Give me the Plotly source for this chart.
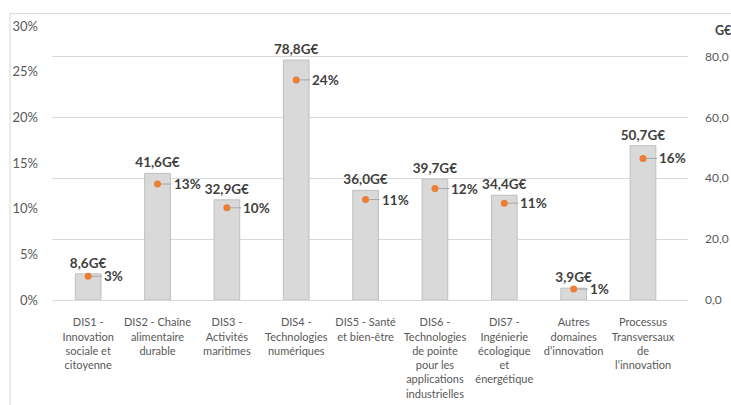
import plotly.graph_objects as go

categories = ["DIS1", "DIS2", "DIS3", "DIS4", "DIS5", "DIS6", "DIS7", "Autres", "Processus"]
tick_labels = [
    "DIS1 -<br>Innovation<br>sociale et<br>citoyenne",
    "DIS2 - Chaîne<br>alimentaire<br>durable",
    "DIS3 -<br>Activités<br>maritimes",
    "DIS4 -<br>Technologies<br>numériques",
    "DIS5 - Santé<br>et bien-être",
    "DIS6 -<br>Technologies<br>de pointe<br>pour les<br>applications<br>industrielles",
    "DIS7 -<br>Ingénierie<br>écologique<br>et<br>énergétique",
    "Autres<br>domaines<br>d’innovation",
    "Processus<br>Transversaux<br>de<br>l’innovation",
]
amount_geur = [8.6, 41.6, 32.9, 78.8, 36.0, 39.7, 34.4, 3.9, 50.7]
share = [0.026, 0.127, 0.101, 0.241, 0.110, 0.122, 0.106, 0.012, 0.155]

FONT = "Lato"
GREY_TXT = "#595959"
LABEL_TXT = "#404040"

fig = go.Figure()
fig.add_trace(go.Bar(
    x=categories, y=amount_geur, yaxis="y",
    marker=dict(color="#d9d9d9", line=dict(color="#bfbfbf", width=1)),
    texttemplate="<b>%{y:.1f}G€</b>", textposition="outside",
    constraintext="none",
    textfont=dict(family=FONT, size=13.5, color=LABEL_TXT),
    cliponaxis=False, showlegend=False,
))
fig.add_trace(go.Scatter(
    x=categories, y=share, yaxis="y2", mode="markers",
    marker=dict(color="#ed7d31", size=7),
    showlegend=False, cliponaxis=False,
))

annotations = []
for c, s in zip(categories, share):
    annotations.append(dict(
        x=c, y=s, xref="x", yref="y2",
        text="<b>%d%%</b>" % int(s * 100 + 0.5),
        showarrow=True, arrowhead=0, arrowwidth=1, arrowcolor="#a6a6a6",
        ax=14, ay=0, axref="pixel", ayref="pixel", xanchor="left",
        standoff=3,
        font=dict(family=FONT, size=13.5, color=LABEL_TXT),
    ))
annotations.append(dict(
    x=1.04, y=0.985, xref="paper", yref="paper", text="<b>G€</b>",
    showarrow=False, xanchor="left", yanchor="middle",
    font=dict(family=FONT, size=12.5, color=LABEL_TXT),
))

fig.update_layout(
    width=731, height=405,
    margin=dict(l=52, r=43, t=26, b=105),
    paper_bgcolor="white", plot_bgcolor="white",
    separators=", ",
    bargap=0.63,
    font=dict(family=FONT, size=11.5, color=GREY_TXT),
    xaxis=dict(
        tickvals=categories, ticktext=tick_labels, automargin=False,
        showline=True, linecolor="#d9d9d9", linewidth=1,
        ticks="", showgrid=False, ticklabelstandoff=12,
        tickfont=dict(family=FONT, size=11, color=GREY_TXT),
    ),
    yaxis=dict(
        side="right", range=[0, 90], tickvals=[0, 20, 40, 60, 80],
        automargin=False,
        tickformat=".1f", showgrid=True, gridcolor="#d9d9d9", gridwidth=1,
        zeroline=False, ticks="", ticklabelstandoff=16,
        tickfont=dict(family=FONT, size=12, color=GREY_TXT),
    ),
    yaxis2=dict(
        overlaying="y", side="left", range=[0, 0.30], dtick=0.05,
        automargin=False,
        tickformat=".0%", showgrid=False, zeroline=False, ticks="",
        ticklabelstandoff=13,
        tickfont=dict(family=FONT, size=13, color=GREY_TXT),
    ),
    annotations=annotations,
    shapes=[dict(
        type="rect", xref="paper", yref="paper",
        x0=-0.066, x1=1.08, y0=-0.45, y1=1.045,
        line=dict(color="#d9d9d9", width=1), layer="below",
    )],
)

fig.write_html("out.html", config={"displayModeBar": False},
               post_script="document.body.style.margin='0';")
